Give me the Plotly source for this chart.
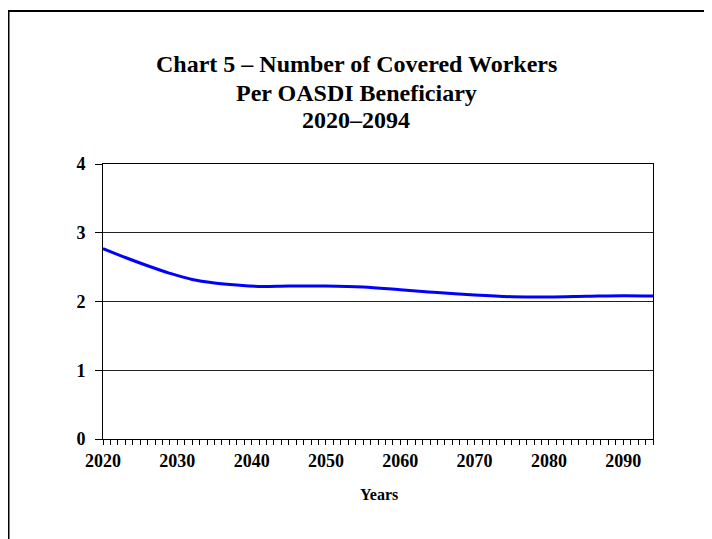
import plotly.graph_objects as go

# Covered workers per OASDI beneficiary
years = [2020, 2023, 2026, 2029, 2032, 2035, 2038, 2041, 2045, 2050,
         2055, 2060, 2065, 2070, 2075, 2080, 2085, 2090, 2094]
ratio = [2.77, 2.64, 2.52, 2.41, 2.32, 2.27, 2.24, 2.22, 2.225, 2.225,
         2.21, 2.17, 2.13, 2.095, 2.07, 2.065, 2.075, 2.085, 2.08]

x_tick_vals = [2020, 2030, 2040, 2050, 2060, 2070, 2080, 2090]
y_tick_vals = [0, 1, 2, 3, 4]
title_lines = ["Chart 5 \u2013 Number of Covered Workers",
               "Per OASDI Beneficiary",
               "2020\u20132094"]

FONT = "Liberation Serif"
OFF = 8  # page body margin
W, H = 712, 539
L, R, T, B = 103 - OFF, 59 + OFF, 164 - OFF, 100 + OFF
PW, PH = W - L - R, H - T - B


def px_x(px):
    return (px - OFF - L) / PW


def px_y(py):
    return (T + PH - (py - OFF)) / PH


fig = go.Figure()
fig.add_trace(go.Scatter(x=years, y=ratio, mode="lines",
                         line=dict(color="#0000FF", width=3, shape="spline", smoothing=1.0),
                         showlegend=False, hoverinfo="x+y"))

fig.update_layout(
    width=W, height=H,
    margin=dict(l=L, r=R, t=T, b=B),
    paper_bgcolor="white", plot_bgcolor="white",
    font=dict(family=FONT, color="black"),
)

fig.update_xaxes(range=[2020, 2094], tickvals=x_tick_vals,
                 ticks="outside", ticklen=5, tickwidth=1, tickcolor="black",
                 minor=dict(dtick=1, tick0=2020, ticks="outside", ticklen=5, tickcolor="black"),
                 showgrid=False, zeroline=False,
                 showline=True, linecolor="black", linewidth=1, mirror=True,
                 tickfont=dict(size=18, family=FONT, weight="bold"))
fig.update_yaxes(range=[0, 4], tickvals=y_tick_vals,
                 ticks="outside", ticklen=7, tickwidth=1, tickcolor="black",
                 showgrid=True, gridcolor="#222222", gridwidth=1, zeroline=False,
                 showline=True, linecolor="black", linewidth=1, mirror=True,
                 ticklabelstandoff=6,
                 tickfont=dict(size=18, family=FONT, weight="bold"))

# title lines
for txt, cy in zip(title_lines, [64, 93, 120]):
    fig.add_annotation(text="<b>%s</b>" % txt, x=px_x(356), y=px_y(cy),
                       xref="paper", yref="paper", xanchor="center", yanchor="middle",
                       showarrow=False, font=dict(size=24, family=FONT, color="black"))

fig.add_annotation(text="<b>Years</b>", x=px_x(378.5), y=px_y(494),
                   xref="paper", yref="paper", xanchor="center", yanchor="middle",
                   showarrow=False, font=dict(size=16, family=FONT, color="black"))

# outer frame (clipped on the right and bottom)
fig.add_shape(type="rect", xref="paper", yref="paper",
              x0=px_x(8.5), x1=px_x(730), y0=px_y(560), y1=px_y(11),
              line=dict(color="black", width=2), layer="below")

fig.write_html("out.html")
